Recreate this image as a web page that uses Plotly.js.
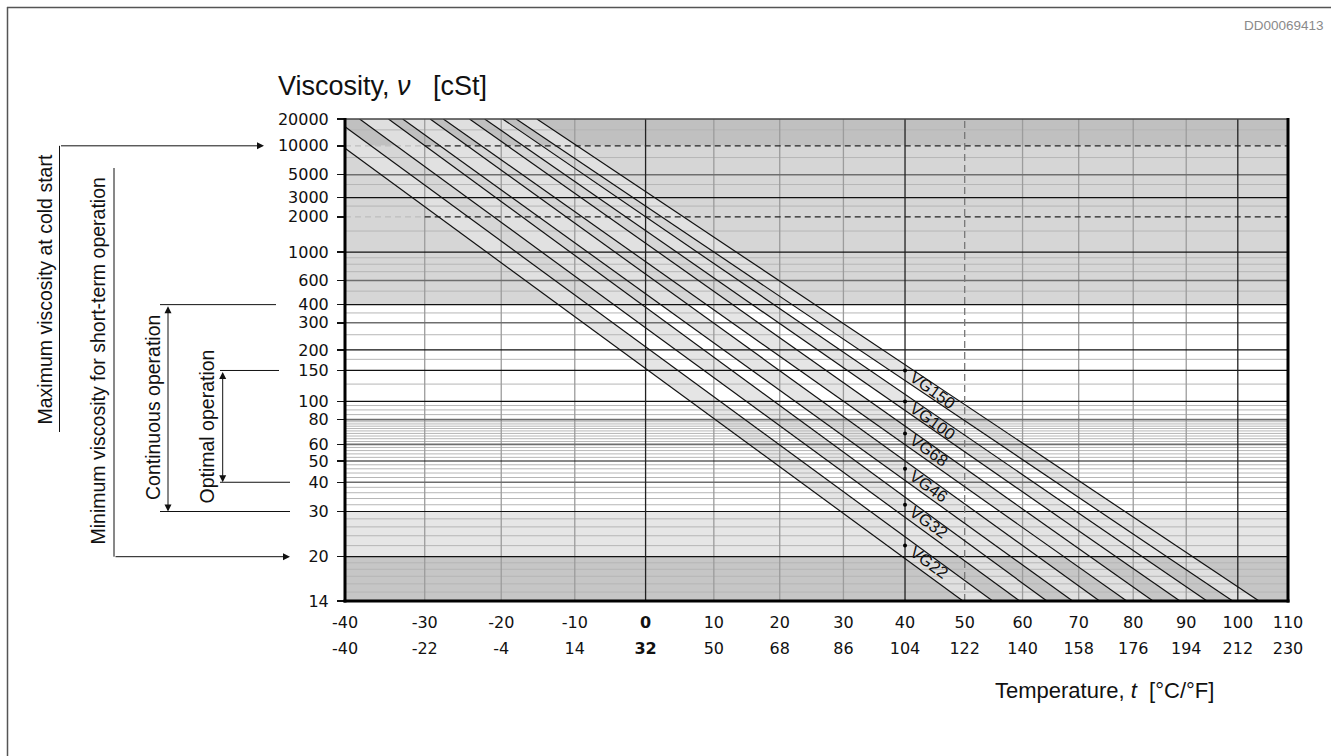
<!DOCTYPE html>
<html><head><meta charset="utf-8">
<script src="https://cdn.plot.ly/plotly-3.0.1.min.js"></script>
<style>html,body{margin:0;padding:0;background:#fff}#chart{width:1331px;height:756px}</style>
</head><body><div id="chart"></div>
<script>
// ---------------- data ----------------
const tempC = [-40,-30,-20,-10,0,10,20,30,40,50,60,70,80,90,100,110];
const tempF = [-40,-22,-4,14,32,50,68,86,104,122,140,158,176,194,212,230];
const viscTicks = [20000,10000,5000,3000,2000,1000,600,400,300,200,150,100,80,60,50,40,30,20,14];
const grades = ['VG22','VG32','VG46','VG68','VG100','VG150'];
const gradeNu40 = [22,32,46,68,100,150];
// lower boundary line of each grade band (start point -> end point)
const lowStartT  = [-40, -38.2, -32.8, -27.6, -22.2, -18.0];
const lowStartNu = [9400, 20000, 20000, 20000, 20000, 20000];
const lowEndT    = [49.7, 59.5, 68.9, 78.8, 88.8, 99.0];
const lowEndNu   = [14, 14, 14, 14, 14, 14];
// upper boundary line of each grade band
const highStartT  = [-40, -34.6, -29.3, -24.2, -19.8, -15.2];
const highStartNu = [16300, 20000, 20000, 20000, 20000, 20000];
const highEndT    = [54.8, 64.3, 73.8, 83.7, 94.0, 104.2];
const highEndNu   = [14, 14, 14, 14, 14, 14];
// shaded viscosity zones
const zoneLow  = [14, 20, 30, 400, 10000];
const zoneHigh = [20, 30, 400, 10000, 20000];
const zoneColor = ['#c6c6c6', '#e6e6e6', '#ffffff', '#d6d6d6', '#c0c0c0'];
// grid lines
const gridBlack  = [3000, 1000, 400, 200, 150, 100, 50, 30, 20];
const gridDark   = [5000, 600, 300, 80, 60, 40];
const gridDashed = [10000, 2000];
const gridMinor  = [15000, 7500, 4000, 2500, 1500, 900, 800, 700, 500, 350, 250, 175, 125,
                    95, 90, 85, 78, 76, 74, 72, 70, 68, 66, 64, 62, 58, 56, 54, 52,
                    48, 46, 44, 42, 38, 36, 34, 32, 28, 26, 24, 22, 19, 18, 17, 16, 15];
const vGridGray  = [-30, -20, -10, 10, 20, 30, 60, 70, 80, 90];
const vGridBlack = [0, 40, 100];
const vGridDashed = [50];

// ---------------- geometry helpers ----------------
const FONT = 'Liberation Sans, Arial, sans-serif';
const TFONT = 'DejaVu Sans, Verdana, sans-serif';
const PL = 345, PR = 1288, PT = 119, PB = 601;
const xp = p => (p - PL) / (PR - PL);
const yp = p => (PB - p) / (PB - PT);
const X = t => Math.log10(t + 273.15);              // temperature scale (log absolute temperature)
const Y = v => Math.log10(Math.log10(v + 0.7));     // Ubbelohde-Walther viscosity scale
const xr = [X(-40), X(110)], yr = [Y(14), Y(20000)];
const pyToY = p => yr[0] + (PB - p) / (PB - PT) * (yr[1] - yr[0]);

const traces = [];
const skip = {hoverinfo: 'skip', showlegend: false, type: 'scatter'};

// grade band fills
grades.forEach((g, i) => {
  traces.push(Object.assign({}, skip, {
    mode: 'lines',
    x: [X(lowStartT[i]), X(lowEndT[i]), X(highEndT[i]), X(highStartT[i])],
    y: [Y(lowStartNu[i]), Y(lowEndNu[i]), Y(highEndNu[i]), Y(highStartNu[i])],
    fill: 'toself', fillcolor: 'rgba(226,226,226,0.9)',
    line: {width: 0, color: 'rgba(0,0,0,0)'}
  }));
});

function hLines(vals, t0, t1, color, width, dash) {
  const x = [], y = [];
  vals.forEach(v => { x.push(X(t0), X(t1), null); y.push(Y(v), Y(v), null); });
  return Object.assign({}, skip, {mode: 'lines', x, y, line: {color, width, dash: dash || 'solid'}});
}
function vLines(vals, color, width, dash) {
  const x = [], y = [];
  vals.forEach(t => { x.push(X(t), X(t), null); y.push(yr[0], yr[1], null); });
  return Object.assign({}, skip, {mode: 'lines', x, y, line: {color, width, dash: dash || 'solid'}});
}
traces.push(hLines(gridMinor, -40, 110, '#b6b6b6', 1));
traces.push(vLines(vGridGray, '#9c9c9c', 1.3));
traces.push(hLines(gridDark, -40, 110, '#6e6e6e', 1.6));
traces.push(hLines(gridBlack, -40, 110, '#111111', 1.2));
traces.push(hLines(gridDashed, -40, -30, '#bdbdbd', 1.2, '6px,4px'));
traces.push(hLines(gridDashed, -30, 110, '#222222', 1.3, '6px,4px'));
traces.push(vLines(vGridBlack, '#222222', 1.3));
traces.push(vLines(vGridDashed, '#777777', 1.3, '7px,4px'));

// grade boundary lines
(function () {
  const x = [], y = [];
  grades.forEach((g, i) => {
    x.push(X(lowStartT[i]), X(lowEndT[i]), null, X(highStartT[i]), X(highEndT[i]), null);
    y.push(Y(lowStartNu[i]), Y(lowEndNu[i]), null, Y(highStartNu[i]), Y(highEndNu[i]), null);
  });
  traces.push(Object.assign({}, skip, {mode: 'lines', x, y, line: {color: '#111', width: 1.2}}));
})();

// nominal points at 40 °C
traces.push(Object.assign({}, skip, {
  mode: 'markers', x: gradeNu40.map(() => X(40)), y: gradeNu40.map(Y),
  marker: {color: '#000', size: 4}, cliponaxis: false
}));
// carrier for the °F axis
traces.push(Object.assign({}, skip, {mode: 'markers', x: [X(40)], y: [Y(100)], xaxis: 'x2', marker: {opacity: 0}}));

// ---------------- shapes ----------------
const shapes = [];
zoneLow.forEach((lo, i) => shapes.push({
  type: 'rect', xref: 'paper', yref: 'y', x0: 0, x1: 1, y0: Y(lo), y1: Y(zoneHigh[i]),
  fillcolor: zoneColor[i], line: {width: 0}, layer: 'below'
}));
// plot frame
shapes.push({type: 'line', xref: 'paper', yref: 'paper', x0: 0, x1: 1, y0: 1, y1: 1, line: {color: '#444', width: 1.5}});
shapes.push({type: 'line', xref: 'paper', yref: 'paper', x0: 0, x1: 0, y0: yp(PB + 1.5), y1: yp(PT - 1), line: {color: '#000', width: 3}});
shapes.push({type: 'line', xref: 'paper', yref: 'paper', x0: 1, x1: 1, y0: yp(PB + 1.5), y1: yp(PT - 1), line: {color: '#000', width: 3}});
shapes.push({type: 'line', xref: 'paper', yref: 'paper', x0: xp(PL - 1.5), x1: xp(PR + 1.5), y0: 0, y1: 0, line: {color: '#000', width: 3}});
// page frame
shapes.push({type: 'line', xref: 'paper', yref: 'paper', x0: xp(7), x1: xp(1340), y0: yp(7.5), y1: yp(7.5), line: {color: '#555', width: 1.5}});
shapes.push({type: 'line', xref: 'paper', yref: 'paper', x0: xp(7.5), x1: xp(7.5), y0: yp(7), y1: yp(760), line: {color: '#555', width: 1.5}});
// left bracket lines
const L = (x0, y0, x1, y1, yref) => ({type: 'line', xref: 'paper', yref: yref || 'y', x0: xp(x0), x1: xp(x1), y0, y1, line: {color: '#111', width: 1}});
shapes.push(L(59.5, Y(10000), 59.5, pyToY(432)));
shapes.push(L(114, pyToY(168), 114, Y(20)));
shapes.push(L(160, Y(400), 276, Y(400)));
shapes.push(L(160, Y(30), 290, Y(30)));
shapes.push(L(220, Y(150), 279, Y(150)));
shapes.push(L(220, Y(40), 290, Y(40)));

// ---------------- annotations ----------------
const ann = [];
const arrow = (xTip, yTip, dx, dy, both, ayAbs) => {
  const a = {xref: 'paper', yref: 'y', x: xp(xTip), y: yTip, text: '', showarrow: true,
    arrowhead: 2, arrowsize: 1.4, arrowwidth: 1, arrowcolor: '#111', standoff: 0, startstandoff: 0,
    axref: 'pixel', ax: dx};
  if (ayAbs !== undefined) { a.ayref = 'y'; a.ay = ayAbs; } else { a.ayref = 'pixel'; a.ay = dy; }
  if (both) { a.arrowside = 'end+start'; a.startarrowhead = 2; a.startarrowsize = 1.4; }
  return a;
};
ann.push(arrow(264, Y(10000), 59.5 - 264, 0));
ann.push(arrow(290, Y(20), 114 - 290, 0));
ann.push(arrow(168, Y(30), 0, 0, true, Y(400)));
ann.push(arrow(222.7, Y(40), 0, 0, true, Y(150)));

const side = (text, xc, yc) => ({xref: 'paper', yref: 'paper', x: xp(xc), y: yp(yc), text, showarrow: false,
  textangle: -90, xanchor: 'center', yanchor: 'middle', font: {family: FONT, size: 19.5, color: '#111'}});
ann.push(side('Maximum viscosity at cold start', 44.5, 290));
ann.push(side('Minimum viscosity for short-term operation', 97.5, 361));
ann.push(side('Continuous operation', 152.5, 407.5));
ann.push(side('Optimal operation', 206, 426.5));

// grade labels
grades.forEach((g, i) => {
  const d = 10 + g.length * 4.8, th = 35 * Math.PI / 180;
  ann.push({xref: 'x', yref: 'y', x: X(40), y: Y(gradeNu40[i]), text: g, showarrow: false,
    textangle: 36, xanchor: 'center', yanchor: 'middle', xshift: d * Math.cos(th), yshift: -d * Math.sin(th),
    font: {family: FONT, size: 16.5, color: '#111'}});
});

// titles
ann.push({xref: 'paper', yref: 'paper', x: xp(276), y: yp(86), xanchor: 'left', yanchor: 'middle', showarrow: false,
  text: 'Viscosity, <i>ν</i>\u00a0\u00a0 [cSt]', font: {family: FONT, size: 27, color: '#111'}});
ann.push({xref: 'paper', yref: 'paper', x: xp(1216), y: yp(690), xanchor: 'right', yanchor: 'middle', showarrow: false,
  text: 'Temperature, <i>t</i>\u00a0 [°C/°F]', font: {family: FONT, size: 22, color: '#111'}});
ann.push({xref: 'paper', yref: 'paper', x: xp(1326), y: yp(25), xanchor: 'right', yanchor: 'middle', showarrow: false,
  text: 'DD00069413', font: {family: FONT, size: 13.5, color: '#8a8a8a'}});

const tickFont = {family: TFONT, size: 16, color: '#111'};
const layout = {
  width: 1331, height: 756,
  margin: {l: PL, r: 1331 - PR, t: PT, b: 756 - PB, pad: 0},
  paper_bgcolor: '#fff', plot_bgcolor: '#fff', showlegend: false,
  xaxis: {range: xr, tickvals: tempC.map(X), ticktext: tempC.map(t => t === 0 ? '<b>0</b>' : String(t)),
    showgrid: false, zeroline: false, showline: false, ticks: '', tickfont: tickFont, ticklabelstandoff: 10, fixedrange: true},
  xaxis2: {range: xr, overlaying: 'x', side: 'bottom', anchor: 'y', tickvals: tempC.map(X),
    ticktext: tempF.map(t => t === 32 ? '<b>32</b>' : String(t)),
    showgrid: false, zeroline: false, showline: false, ticks: '', tickfont: tickFont, ticklabelstandoff: 36, fixedrange: true},
  yaxis: {range: yr, tickvals: viscTicks.map(Y), ticktext: viscTicks.map(String),
    showgrid: false, zeroline: false, showline: false, ticks: 'outside', ticklen: 7, tickwidth: 1.5, tickcolor: '#111',
    tickfont: tickFont, ticklabelstandoff: 5, fixedrange: true},
  shapes, annotations: ann
};
Plotly.newPlot('chart', traces, layout, {displayModeBar: false, staticPlot: true});
</script>
</body></html>
